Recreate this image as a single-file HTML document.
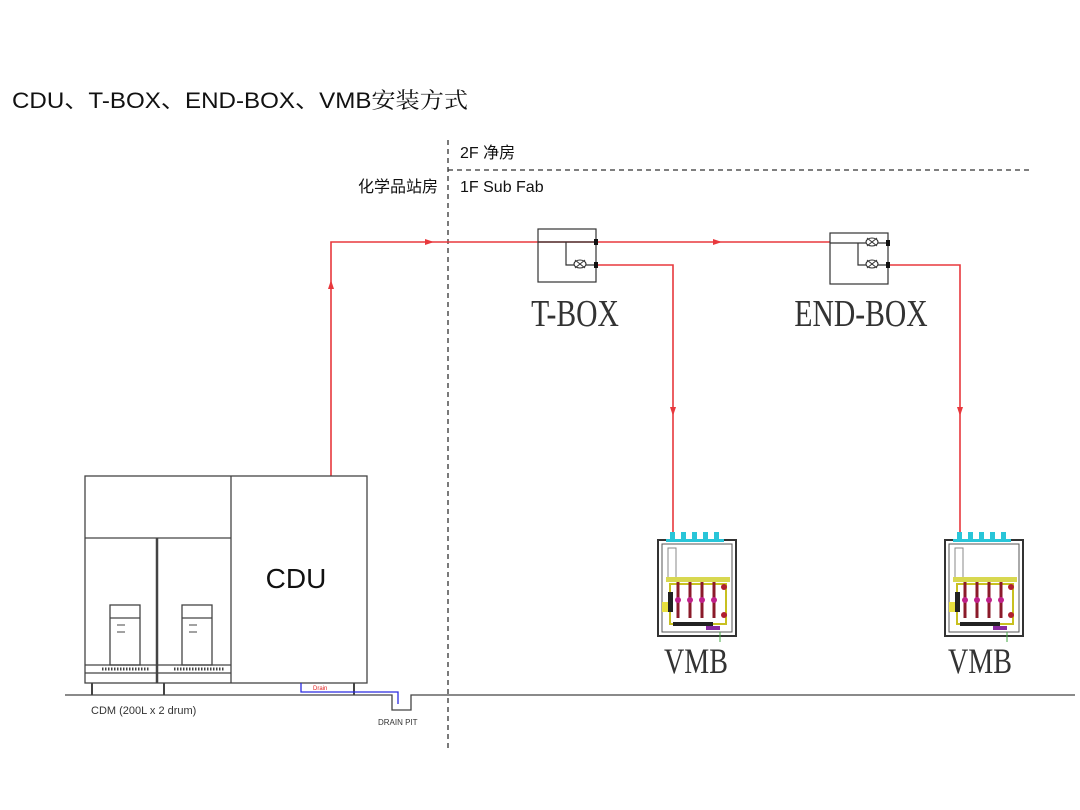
<!DOCTYPE html>
<html><head><meta charset="utf-8"><style>
html,body{margin:0;padding:0;background:#fff;}
svg{display:block}
</style></head><body>
<svg width="1080" height="810" viewBox="0 0 1080 810" xmlns="http://www.w3.org/2000/svg">
<rect width="1080" height="810" fill="#fff"/>
<text x="12" y="108" font-family="Liberation Sans, Noto Sans CJK SC, sans-serif" font-size="22" fill="#111" textLength="456" lengthAdjust="spacingAndGlyphs">CDU、T-BOX、END-BOX、VMB<tspan font-family="Noto Serif CJK SC, serif">安装方式</tspan></text>

<!-- dashed lines -->
<line x1="448" y1="140" x2="448" y2="748" stroke="#333" stroke-width="1.3" stroke-dasharray="5,4"/>
<line x1="448" y1="170" x2="1032" y2="170" stroke="#333" stroke-width="1.3" stroke-dasharray="5,4"/>
<text x="460" y="158" font-family="Liberation Sans, Noto Sans CJK SC, sans-serif" font-size="16" fill="#111">2F 净房</text>
<text x="438" y="192" text-anchor="end" font-family="Liberation Sans, Noto Sans CJK SC, sans-serif" font-size="16" fill="#111">化学品站房</text>
<text x="460" y="192" font-family="Liberation Sans, sans-serif" font-size="16" fill="#111">1F Sub Fab</text>

<!-- red piping -->
<g stroke="#e8383d" stroke-width="1.6" fill="none">
<polyline points="331,476 331,242 830,242"/>
<polyline points="596,265 673,265 673,532"/>
<polyline points="888,265 960,265 960,532"/>
</g>
<g fill="#e8383d">
<polygon points="331,280 328,289 334,289"/>
<polygon points="434,242 425,239 425,245"/>
<polygon points="722,242 713,239 713,245"/>
<polygon points="673,416 670,407 676,407"/>
<polygon points="960,416 957,407 963,407"/>
</g>

<defs>
<g id="valve" stroke="#333" stroke-width="1.1" fill="none">
<path d="M-5,3 a5,5 0 0 1 10,0 Z"/><line x1="-5" y1="-3" x2="5" y2="3"/><line x1="5" y1="-3" x2="-5" y2="3"/>
</g>
</defs>
<g stroke="#333" stroke-width="1.2" fill="none">
<rect x="538" y="229" width="58" height="53"/>
<line x1="538" y1="242" x2="596" y2="242"/>
<polyline points="566,242 566,265 596,265"/>
<rect x="830" y="233" width="58" height="51"/>
<line x1="830" y1="243" x2="888" y2="243"/>
<polyline points="858,243 858,265 888,265"/>
</g>
<g fill="#fff" stroke="#333" stroke-width="1.1">
<ellipse cx="580" cy="264" rx="6" ry="4"/>
<ellipse cx="872" cy="242" rx="6" ry="4"/>
<ellipse cx="872" cy="264" rx="6" ry="4"/>
</g>
<g stroke="#333" stroke-width="1"><line x1="575" y1="260" x2="585" y2="268"/><line x1="585" y1="260" x2="575" y2="268"/>
<line x1="867" y1="238" x2="877" y2="246"/><line x1="877" y1="238" x2="867" y2="246"/>
<line x1="867" y1="260" x2="877" y2="268"/><line x1="877" y1="260" x2="867" y2="268"/></g>
<g fill="#111"><rect x="594" y="239" width="4" height="6"/><rect x="594" y="262" width="4" height="6"/><rect x="886" y="240" width="4" height="6"/><rect x="886" y="262" width="4" height="6"/></g>
<text x="575" y="326" text-anchor="middle" font-family="Liberation Serif, serif" font-size="38" fill="#333" transform="translate(575,0) scale(0.78,1) translate(-575,0)">T-BOX</text>
<text x="861" y="326" text-anchor="middle" font-family="Liberation Serif, serif" font-size="38" fill="#333" transform="translate(861,0) scale(0.78,1) translate(-861,0)">END-BOX</text>

<defs>
<g id="vmb">
<rect x="0" y="0" width="78" height="96" fill="none" stroke="#333" stroke-width="2"/>
<rect x="4" y="4" width="70" height="88" fill="none" stroke="#555" stroke-width="1"/>
<g fill="#29c5d8"><rect x="12" y="-8" width="5" height="10"/><rect x="23" y="-8" width="5" height="10"/><rect x="34" y="-8" width="5" height="10"/><rect x="45" y="-8" width="5" height="10"/><rect x="56" y="-8" width="5" height="10"/><rect x="8" y="-1" width="58" height="3"/></g>
<rect x="10" y="8" width="8" height="30" fill="none" stroke="#888"/>
<rect x="8" y="37" width="64" height="5" fill="#d8d850"/>
<rect x="12" y="44" width="56" height="40" fill="none" stroke="#c8c020" stroke-width="2"/>
<g stroke="#8b1a2a" stroke-width="3"><line x1="20" y1="42" x2="20" y2="78"/><line x1="32" y1="42" x2="32" y2="78"/><line x1="44" y1="42" x2="44" y2="78"/><line x1="56" y1="42" x2="56" y2="78"/></g>
<g fill="#c0208a"><circle cx="20" cy="60" r="3"/><circle cx="32" cy="60" r="3"/><circle cx="44" cy="60" r="3"/><circle cx="56" cy="60" r="3"/></g>
<rect x="4" y="62" width="6" height="10" fill="#e8e040"/>
<rect x="10" y="52" width="5" height="20" fill="#222"/>
<rect x="15" y="82" width="40" height="4" fill="#222"/>
<rect x="48" y="86" width="14" height="4" fill="#8a2aa0"/>
<circle cx="66" cy="47" r="3" fill="#b02030"/><circle cx="66" cy="75" r="3" fill="#b02030"/>
<line x1="62" y1="92" x2="62" y2="102" stroke="#4a4"/>
</g>
</defs>
<use href="#vmb" x="658" y="540"/>
<use href="#vmb" x="945" y="540"/>
<text x="696" y="673" text-anchor="middle" font-family="Liberation Serif, serif" font-size="36" fill="#333" transform="translate(696,0) scale(0.78,1) translate(-696,0)">VMB</text>
<text x="980" y="673" text-anchor="middle" font-family="Liberation Serif, serif" font-size="36" fill="#333" transform="translate(980,0) scale(0.78,1) translate(-980,0)">VMB</text>

<g stroke="#444" stroke-width="1.3" fill="none">
<rect x="85" y="476" width="282" height="207"/>
<line x1="85" y1="538" x2="231" y2="538"/>
<line x1="231" y1="476" x2="231" y2="683"/>
<line x1="157" y1="538" x2="157" y2="683" stroke-width="2.5"/>
<rect x="110" y="605" width="30" height="60"/><line x1="110" y1="618" x2="140" y2="618"/>
<rect x="182" y="605" width="30" height="60"/><line x1="182" y1="618" x2="212" y2="618"/>
<line x1="85" y1="665" x2="231" y2="665"/><line x1="85" y1="673" x2="231" y2="673"/>
<line x1="92" y1="683" x2="92" y2="695" stroke-width="2"/>
<line x1="164" y1="683" x2="164" y2="695" stroke-width="2"/>
<line x1="354" y1="683" x2="354" y2="695" stroke-width="2"/>
</g>
<g stroke="#444" stroke-width="1"><line x1="117" y1="625" x2="125" y2="625"/><line x1="117" y1="632" x2="125" y2="632"/><line x1="189" y1="625" x2="197" y2="625"/><line x1="189" y1="632" x2="197" y2="632"/>
<line x1="102" y1="669" x2="150" y2="669" stroke-dasharray="1.5,1.5" stroke-width="3"/><line x1="174" y1="669" x2="224" y2="669" stroke-dasharray="1.5,1.5" stroke-width="3"/></g>
<text x="296" y="588" text-anchor="middle" font-family="Liberation Sans, sans-serif" font-size="28" fill="#111">CDU</text>

<polyline points="65,695 392,695 392,710 411,710 411,695 1075,695" fill="none" stroke="#444" stroke-width="1.3"/>
<polyline points="301,683 301,692 398,692 398,704" fill="none" stroke="#2a2ae0" stroke-width="1.3"/>
<text x="313" y="690" font-family="Liberation Sans, sans-serif" font-size="6" fill="#e02020">Drain</text>
<text x="91" y="714" font-family="Liberation Sans, sans-serif" font-size="11" fill="#333">CDM (200L x 2 drum)</text>
<text x="378" y="725" font-family="Liberation Sans, sans-serif" font-size="8" fill="#333">DRAIN PIT</text>
</svg>
</body></html>
